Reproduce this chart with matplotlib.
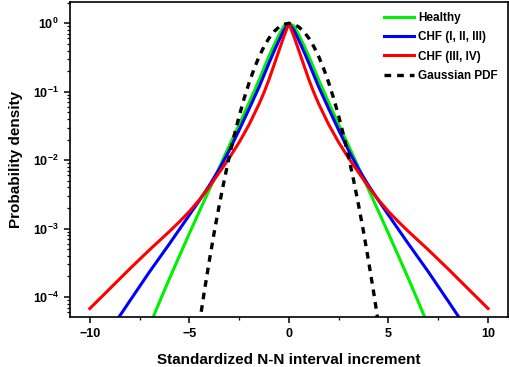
import numpy as np
import matplotlib
matplotlib.use("Agg")
import matplotlib.pyplot as plt
from matplotlib.ticker import LogLocator, MultipleLocator, NullFormatter

plt.rcParams['font.family'] = ['Liberation Sans', 'DejaVu Sans']
plt.rcParams['font.weight'] = 'bold'
plt.rcParams['mathtext.fontset'] = 'custom'
plt.rcParams['mathtext.rm'] = 'Liberation Sans:bold'
plt.rcParams['mathtext.it'] = 'Liberation Sans:bold'
plt.rcParams['mathtext.bf'] = 'Liberation Sans:bold'

# values (curves are symmetric about 0)
x_healthy = [-7.0, -6.5, -6.0, -5.5, -5.0, -4.5, -4.0, -3.5, -3.0, -2.5, -2.0, -1.5, -1.0, -0.75, -0.5, -0.25,
             0.0, 0.25, 0.5, 0.75, 1.0, 1.5, 2.0, 2.5, 3.0, 3.5, 4.0, 4.5, 5.0, 5.5, 6.0, 6.5, 7.0]
y_healthy = [3.8e-5, 8.5e-5, 1.86e-4, 3.98e-4, 8.5e-4, 1.78e-3, 3.72e-3, 7.76e-3, 0.0162, 0.0331, 0.0692, 0.148,
             0.331, 0.479, 0.676, 0.912,
             1.0, 0.912, 0.676, 0.479, 0.331, 0.148, 0.0692, 0.0331, 0.0162, 7.76e-3, 3.72e-3, 1.78e-3, 8.5e-4,
             3.98e-4, 1.86e-4, 8.5e-5, 3.8e-5]

x_chf123 = [-9.0, -8.0, -7.0, -6.0, -5.0, -4.5, -4.0, -3.5, -3.0, -2.5, -2.0, -1.5, -1.0, -0.75, -0.5, -0.25,
            0.0, 0.25, 0.5, 0.75, 1.0, 1.5, 2.0, 2.5, 3.0, 3.5, 4.0, 4.5, 5.0, 6.0, 7.0, 8.0, 9.0]
y_chf123 = [3.2e-5, 8.7e-5, 2.34e-4, 6.0e-4, 1.58e-3, 2.57e-3, 4.27e-3, 7.41e-3, 0.0138, 0.0275, 0.0562, 0.117,
            0.263, 0.389, 0.562, 0.794,
            1.0, 0.794, 0.562, 0.389, 0.263, 0.117, 0.0562, 0.0275, 0.0138, 7.41e-3, 4.27e-3, 2.57e-3, 1.58e-3,
            6.0e-4, 2.34e-4, 8.7e-5, 3.2e-5]

x_chf34 = [-10.0, -9.0, -8.0, -7.0, -6.0, -5.5, -5.0, -4.5, -4.0, -3.5, -3.0, -2.5, -2.0, -1.5, -1.25, -1.0,
           -0.75, -0.5, -0.25, 0.0, 0.25, 0.5, 0.75, 1.0, 1.25, 1.5, 2.0, 2.5, 3.0, 3.5, 4.0, 4.5, 5.0, 5.5,
           6.0, 7.0, 8.0, 9.0, 10.0]
y_chf34 = [6.8e-5, 1.32e-4, 2.57e-4, 4.9e-4, 9.1e-4, 1.26e-3, 1.78e-3, 2.63e-3, 4.07e-3, 6.6e-3, 0.0107, 0.0182,
           0.0331, 0.0661, 0.0977, 0.151, 0.245, 0.398, 0.646,
           1.0, 0.646, 0.398, 0.245, 0.151, 0.0977, 0.0661, 0.0331, 0.0182, 0.0107, 6.6e-3, 4.07e-3, 2.63e-3,
           1.78e-3, 1.26e-3, 9.1e-4, 4.9e-4, 2.57e-4, 1.32e-4, 6.8e-5]

x_gauss = [-4.5, -4.25, -4.0, -3.75, -3.5, -3.25, -3.0, -2.75, -2.5, -2.25, -2.0, -1.75, -1.5, -1.25, -1.0,
           -0.75, -0.5, -0.25, 0.0, 0.25, 0.5, 0.75, 1.0, 1.25, 1.5, 1.75, 2.0, 2.25, 2.5, 2.75, 3.0, 3.25,
           3.5, 3.75, 4.0, 4.25, 4.5]
y_gauss = [4.0e-5, 1.2e-4, 3.35e-4, 8.9e-4, 2.19e-3, 5.08e-3, 0.0111, 0.0228, 0.0439, 0.0796, 0.135, 0.216,
           0.325, 0.458, 0.607, 0.755, 0.882, 0.969,
           1.0, 0.969, 0.882, 0.755, 0.607, 0.458, 0.325, 0.216, 0.135, 0.0796, 0.0439, 0.0228, 0.0111,
           5.08e-3, 2.19e-3, 8.9e-4, 3.35e-4, 1.2e-4, 4.0e-5]

fig = plt.figure(figsize=(5.10, 3.67), dpi=100)
ax = fig.add_axes([0.137, 0.136, 0.859, 0.859])

ax.plot(x_healthy, y_healthy, color='#00f000', lw=2.2, label='Healthy')
ax.plot(x_chf123, y_chf123, color='#0000ff', lw=2.2, label='CHF (I, II, III)')
ax.plot(x_chf34, y_chf34, color='#ff0000', lw=2.2, label='CHF (III, IV)')
ax.plot(x_gauss, y_gauss, color='black', lw=2.4, ls=(0, (2.0, 1.8)), label='Gaussian PDF')

ax.set_yscale('log')
ax.set_xlim(-11, 11)
ax.set_ylim(5.1e-5, 2.06)
ax.xaxis.set_major_locator(MultipleLocator(5))
ax.xaxis.set_minor_locator(MultipleLocator(2.5))
ax.yaxis.set_major_locator(LogLocator(base=10, numticks=10))
ax.yaxis.set_minor_locator(LogLocator(base=10, subs=np.arange(2, 10), numticks=20))
ax.yaxis.set_minor_formatter(NullFormatter())

ax.tick_params(which='major', direction='out', length=4.5, width=1.1, labelsize=9)
ax.tick_params(which='minor', direction='out', length=2.5, width=0.9)
for sp in ax.spines.values():
    sp.set_linewidth(1.2)

ax.set_xlabel('Standardized N-N interval increment', fontsize=11, fontweight='bold', labelpad=9)
ax.set_ylabel('Probability density', fontsize=11, fontweight='bold', labelpad=7)

leg = ax.legend(loc='upper right', frameon=False, fontsize=8.5, handlelength=2.5,
                handletextpad=0.4, labelspacing=0.62, borderaxespad=0.45)

fig.savefig('out.png', dpi=100)
